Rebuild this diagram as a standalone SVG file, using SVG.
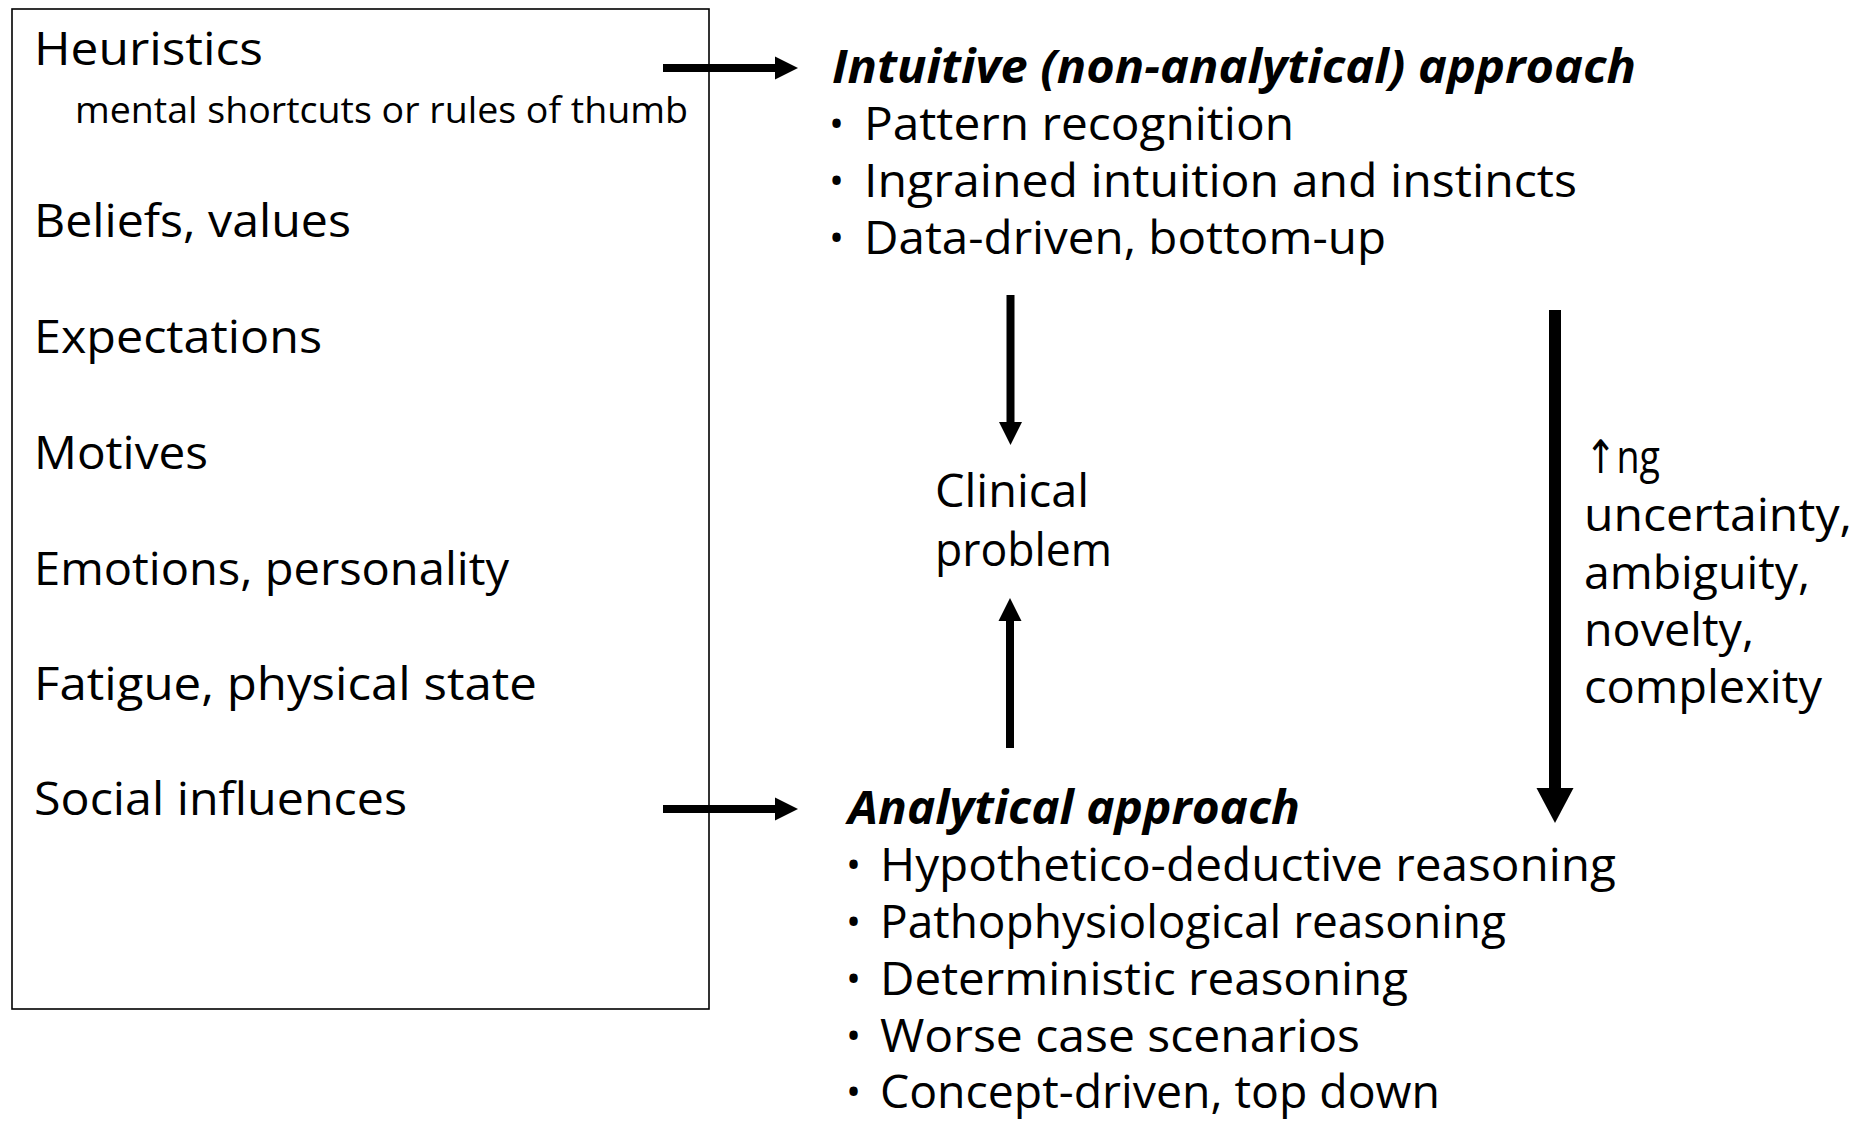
<svg xmlns="http://www.w3.org/2000/svg" width="1872" height="1121" viewBox="0 0 1872 1121">
  <style>
    text { font-family: "Open Sans", "Noto Sans", "DejaVu Sans", sans-serif; fill: #000; }
    .t { font-size: 46px; }
    .s { font-size: 37px; }
    .h { font-size: 46px; font-weight: bold; font-style: italic; }
    .b { font-size: 40px; }
    .box { fill: #fff; stroke: #000; stroke-width: 1.6; }
    .thin { stroke: #000; stroke-width: 8; fill: none; }
    .thick { stroke: #000; stroke-width: 12; fill: none; }
  </style>
  <defs>
    <marker id="headThin" markerUnits="userSpaceOnUse" markerWidth="23" markerHeight="24" refX="0" refY="12" orient="auto" overflow="visible">
      <path d="M0,0.5 L23,12 L0,23.5 Z" fill="#000"/>
    </marker>
    <marker id="headThick" markerUnits="userSpaceOnUse" markerWidth="35" markerHeight="37" refX="0" refY="18.5" orient="auto" overflow="visible">
      <path d="M0,0 L35,18.5 L0,37 Z" fill="#000"/>
    </marker>
  </defs>
  <rect width="1872" height="1121" fill="#fff"/>

  <g id="factors">
    <rect class="box" x="12" y="9" width="697" height="1000"/>
    <text class="t" x="34" y="65" textLength="229" lengthAdjust="spacingAndGlyphs">Heuristics</text>
    <text class="s" x="75" y="123" textLength="613" lengthAdjust="spacingAndGlyphs">mental shortcuts or rules of thumb</text>
    <text class="t" x="34" y="237" textLength="317" lengthAdjust="spacingAndGlyphs">Beliefs, values</text>
    <text class="t" x="34" y="353" textLength="288" lengthAdjust="spacingAndGlyphs">Expectations</text>
    <text class="t" x="34" y="469" textLength="174" lengthAdjust="spacingAndGlyphs">Motives</text>
    <text class="t" x="34" y="585" textLength="475" lengthAdjust="spacingAndGlyphs">Emotions, personality</text>
    <text class="t" x="34" y="700" textLength="503" lengthAdjust="spacingAndGlyphs">Fatigue, physical state</text>
    <text class="t" x="34" y="815" textLength="373" lengthAdjust="spacingAndGlyphs">Social influences</text>
  </g>

  <g id="intuitive">
    <text class="h" x="832" y="83" textLength="804" lengthAdjust="spacingAndGlyphs">Intuitive (non-analytical) approach</text>
    <text class="b" x="829" y="138">•</text>
    <text class="t" x="864" y="140" textLength="430" lengthAdjust="spacingAndGlyphs">Pattern recognition</text>
    <text class="b" x="829" y="195">•</text>
    <text class="t" x="864" y="197" textLength="713" lengthAdjust="spacingAndGlyphs">Ingrained intuition and instincts</text>
    <text class="b" x="829" y="252">•</text>
    <text class="t" x="864" y="254" textLength="522" lengthAdjust="spacingAndGlyphs">Data-driven, bottom-up</text>
  </g>

  <g id="clinical">
    <text class="t" x="935" y="507" textLength="154" lengthAdjust="spacingAndGlyphs">Clinical</text>
    <text class="t" x="935" y="566" textLength="177" lengthAdjust="spacingAndGlyphs">problem</text>
  </g>

  <g id="analytical">
    <text class="h" x="848" y="824" textLength="452" lengthAdjust="spacingAndGlyphs">Analytical approach</text>
    <text class="b" x="846" y="879">•</text>
    <text class="t" x="880" y="881" textLength="736" lengthAdjust="spacingAndGlyphs">Hypothetico-deductive reasoning</text>
    <text class="b" x="846" y="936">•</text>
    <text class="t" x="880" y="938" textLength="626" lengthAdjust="spacingAndGlyphs">Pathophysiological reasoning</text>
    <text class="b" x="846" y="993">•</text>
    <text class="t" x="880" y="995" textLength="528" lengthAdjust="spacingAndGlyphs">Deterministic reasoning</text>
    <text class="b" x="846" y="1050">•</text>
    <text class="t" x="880" y="1052" textLength="480" lengthAdjust="spacingAndGlyphs">Worse case scenarios</text>
    <text class="b" x="846" y="1106">•</text>
    <text class="t" x="880" y="1108" textLength="560" lengthAdjust="spacingAndGlyphs">Concept-driven, top down</text>
  </g>

  <g id="uncertainty">
    <text class="t" x="1585" y="473" textLength="75" lengthAdjust="spacingAndGlyphs">↑ng</text>
    <text class="t" x="1584" y="531" textLength="268" lengthAdjust="spacingAndGlyphs">uncertainty,</text>
    <text class="t" x="1584" y="589" textLength="226" lengthAdjust="spacingAndGlyphs">ambiguity,</text>
    <text class="t" x="1584" y="646" textLength="170" lengthAdjust="spacingAndGlyphs">novelty,</text>
    <text class="t" x="1584" y="703" textLength="238" lengthAdjust="spacingAndGlyphs">complexity</text>
  </g>

  <g id="connectors">
    <line class="thin" x1="663" y1="68" x2="775" y2="68" marker-end="url(#headThin)"/>
    <line class="thin" x1="663" y1="809" x2="775" y2="809" marker-end="url(#headThin)"/>
    <line class="thin" x1="1010.5" y1="295" x2="1010.5" y2="422" marker-end="url(#headThin)"/>
    <line class="thin" x1="1010" y1="748" x2="1010" y2="621" marker-end="url(#headThin)"/>
    <line class="thick" x1="1555" y1="310" x2="1555" y2="788" marker-end="url(#headThick)"/>
  </g>
</svg>
